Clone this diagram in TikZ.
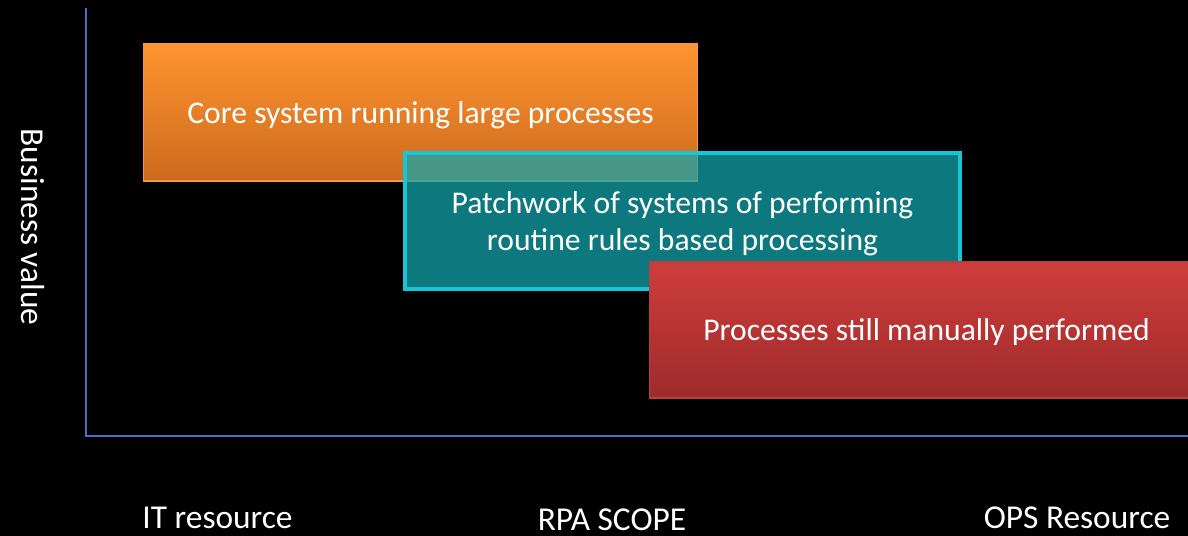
\documentclass[tikz,border=0pt]{standalone}
\usepackage{fontspec}
\setmainfont{Carlito}
\usetikzlibrary{positioning,calc}

\definecolor{axisblue}{HTML}{4472C4}
\definecolor{orangetop}{HTML}{FF9530}
\definecolor{orangebot}{HTML}{CC691D}
\definecolor{orangeedge}{HTML}{F79646}
\definecolor{tealfill}{HTML}{13A7AF}
\definecolor{cyanedge}{HTML}{17C6D6}
\definecolor{redtop}{HTML}{CE3D3B}
\definecolor{redbot}{HTML}{9E2B2B}
\definecolor{rededge}{HTML}{B9403E}

\begin{document}
\begin{tikzpicture}[x=0.02cm, y=-0.02cm,
  box/.style={rectangle, minimum width=11.1cm, minimum height=2.72cm, inner sep=0pt,
    text=white, font=\fontsize{18}{21}\selectfont, align=center, text depth=0pt},
  axislabel/.style={text=white, font=\fontsize{19}{23}\selectfont, inner sep=0pt, text depth=0pt}]
% 背景
\fill[black] (0,0) rectangle (1188,536);
\useasboundingbox (0,0) rectangle (1188,536);

% 坐标轴
\coordinate (ytop) at (86,8);
\coordinate (origin) at (86,436);
\coordinate (xend) at (1190,436);
\draw[axisblue, line width=0.85pt] (ytop) -- (origin) -- (xend);

% 方框
\node[box, top color=orangetop, bottom color=orangebot, draw=orangeedge, line width=0.6pt,
  minimum height=2.74cm] (core) at (420.5,112.5) {Core system running large processes};
\node[box, fill=tealfill, fill opacity=0.73, text opacity=1, draw=cyanedge, draw opacity=1,
  line width=2.3pt] (patch) at (682.5,221) {Patchwork of systems of performing\\routine rules based processing};
\node[box, top color=redtop, bottom color=redbot, draw=rededge, line width=0.6pt]
  (manual) at (926.5,330) {Processes still manually performed};

% 标签
\node[axislabel, rotate=-90] (value) at (33,227) {Business value};
\node[axislabel, anchor=base] (it) at (217.5,529) {IT resource};
\node[axislabel, anchor=base] (rpa) at (612,531) {RPA SCOPE};
\node[axislabel, anchor=base] (ops) at (1077,529) {OPS Resource};
\end{tikzpicture}
\end{document}
